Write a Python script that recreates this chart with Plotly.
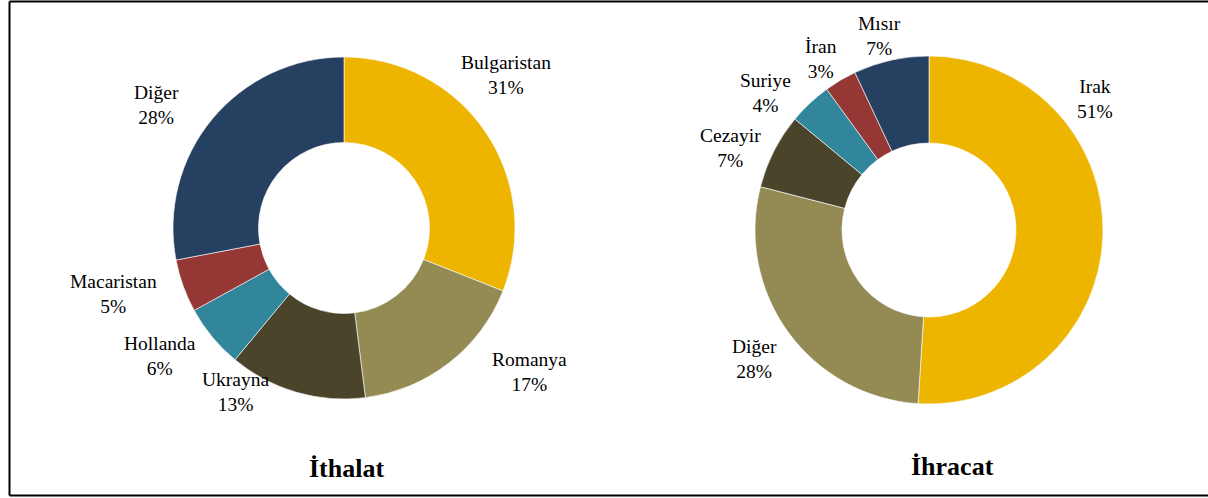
import plotly.graph_objects as go

W, H = 1208, 498

# ---- data ----
import_labels = ["Bulgaristan", "Romanya", "Ukrayna", "Hollanda", "Macaristan", "Diğer"]
import_values = [31, 17, 13, 6, 5, 28]
export_labels = ["Irak", "Diğer", "Cezayir", "Suriye", "İran", "Mısır"]
export_values = [51, 28, 7, 4, 3, 7]
titles = ["İthalat", "İhracat"]

# ---- styles / positions ----
import_colors = ["#EDB400", "#948A54", "#4A442A", "#31869C", "#953735", "#254061"]
export_colors = ["#EDB400", "#948A54", "#4A442A", "#31869C", "#953735", "#254061"]
import_label_pos = [(506, 75), (529, 372), (235, 392), (160, 356), (113, 294), (156, 105)]
export_label_pos = [(1095, 99), (754, 359), (730, 148), (765, 93), (821, 59), (879, 36)]
title_pos = [(346, 468), (952, 466)]

def px_domain(cx, cy, r):
    return dict(x=[(cx - r) / W, (cx + r) / W], y=[1 - (cy + r) / H, 1 - (cy - r) / H])

fig = go.Figure()
fig.add_trace(go.Pie(labels=import_labels, values=import_values, hole=0.5, sort=False,
                     direction="clockwise", rotation=0, textinfo="none",
                     marker=dict(colors=import_colors, line=dict(color="white", width=0.6)),
                     domain=px_domain(344, 228, 171), showlegend=False))
fig.add_trace(go.Pie(labels=export_labels, values=export_values, hole=0.5, sort=False,
                     direction="clockwise", rotation=0, textinfo="none",
                     marker=dict(colors=export_colors, line=dict(color="white", width=0.6)),
                     domain=px_domain(929, 230, 174), showlegend=False))

annotations = []
font = dict(family="Liberation Serif, Times New Roman, serif", size=19.5, color="#000000")
for labels, values, positions in [(import_labels, import_values, import_label_pos),
                                  (export_labels, export_values, export_label_pos)]:
    total = sum(values)
    for lab, val, (x, y) in zip(labels, values, positions):
        annotations.append(dict(x=x / W, y=1 - y / H, xref="paper", yref="paper",
                                text=f"{lab}<br>{round(100 * val / total)}%", showarrow=False,
                                font=font, align="center", xanchor="center", yanchor="middle"))
for t, (x, y) in zip(titles, title_pos):
    annotations.append(dict(x=x / W, y=1 - y / H, xref="paper", yref="paper",
                            text=f"<b>{t}</b>", showarrow=False,
                            font=dict(family="Liberation Serif, Times New Roman, serif", size=26, color="#000000"),
                            xanchor="center", yanchor="middle"))

shapes = [
    dict(type="line", xref="paper", yref="paper", x0=9.5 / W, x1=1.0, y0=1 - 1.5 / H, y1=1 - 1.5 / H,
         line=dict(color="black", width=2)),
    dict(type="line", xref="paper", yref="paper", x0=9.5 / W, x1=1.0, y0=1 - 495.5 / H, y1=1 - 495.5 / H,
         line=dict(color="black", width=2)),
    dict(type="line", xref="paper", yref="paper", x0=9.5 / W, x1=9.5 / W, y0=1 - 1.5 / H, y1=1 - 495.5 / H,
         line=dict(color="black", width=2)),
]

fig.update_layout(width=W, height=H, margin=dict(l=0, r=0, t=0, b=0),
                  paper_bgcolor="white", plot_bgcolor="white",
                  annotations=annotations, shapes=shapes)
fig.write_html("out.html", config={"displayModeBar": False},
               post_script="document.body.style.margin='0';document.body.style.padding='0';"
                           "document.body.style.overflow='hidden';")
